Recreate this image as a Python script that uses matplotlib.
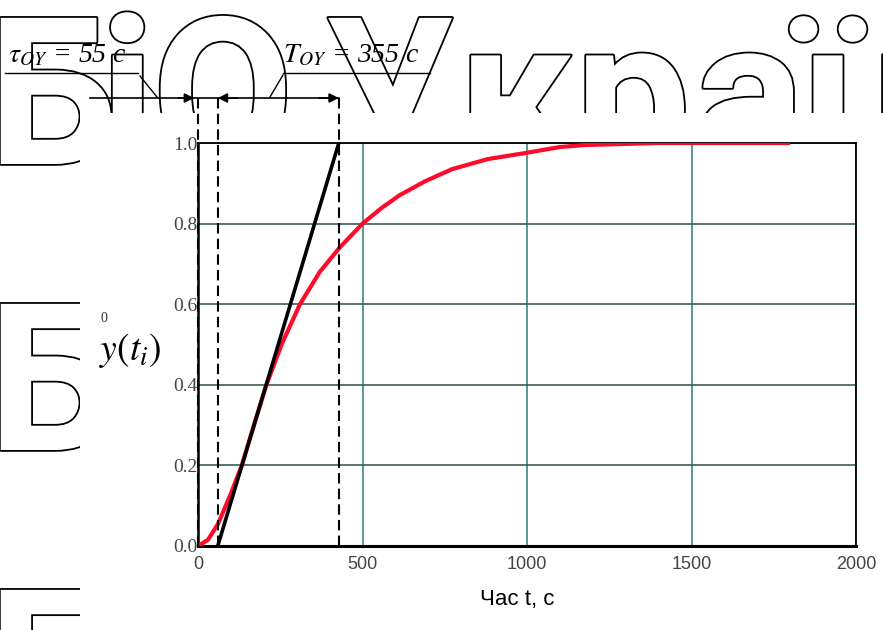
import matplotlib
matplotlib.use('Agg')
import matplotlib.pyplot as plt
import matplotlib.patheffects as pe
from matplotlib.lines import Line2D
from matplotlib.patches import Rectangle

plt.rcParams['mathtext.fontset'] = 'stix'

# ---- data ----
t_resp = [0, 30, 61, 100, 133, 170, 208, 254, 310, 370, 430, 500, 560, 612, 690,
          772, 880, 994, 1100, 1175, 1400, 1800]
y_resp = [0.0, 0.015, 0.055, 0.13, 0.2, 0.3, 0.4, 0.5, 0.6, 0.68, 0.74, 0.80, 0.84,
          0.87, 0.905, 0.935, 0.96, 0.975, 0.99, 0.995, 1.0, 1.0]
t_tangent = [60, 428]
y_tangent = [0.0, 1.0]
marker_times = [0, 60, 428]          # vertical dashed construction lines
tau_label = r'$\tau_{OY}$ = 55 с'
T_label = r'$T_{OY}$ = 355 с'
x_ticks = [0, 500, 1000, 1500, 2000]
x_ticklabels = ['0', '500', '1000', '1500', '2000']
y_ticks = [0.0, 0.2, 0.4, 0.6, 0.8, 1.0]
y_ticklabels = ['0.0', '0.2', '0.4', '0.6', '0.8', '1.0']
x_label = 'Час t, с'
y_label = r'$y(t_i)$'
y_label_sup = '0'
watermark_chars = ['Б', 'і', 'О', 'У', 'к', 'р', 'а', 'ї', 'н']
watermark_x = [-12, 100, 152, 325, 458, 575, 694, 800, 872]

W, H = 883, 630
fig = plt.figure(figsize=(W / 100, H / 100), dpi=100)
fig.patch.set_facecolor('white')


def fx(x):
    return x / W


def fy(y):
    return 1 - y / H


# ---- watermark (outlined letters) ----
wm_kw = dict(fontsize=148, family='Roboto', weight='bold', color='white',
             ha='left', va='baseline', zorder=0,
             path_effects=[pe.Stroke(linewidth=2.6, foreground='black'), pe.Normal()])
for ch, x in zip(watermark_chars, watermark_x):
    fig.text(fx(x), fy(164), ch, **wm_kw)
for base in [450, 736]:
    fig.text(fx(watermark_x[0]), fy(base), watermark_chars[0], **wm_kw)

# white block of the chart picture
fig.add_artist(Rectangle((fx(80), 0), 1 - fx(80), fy(113), transform=fig.transFigure,
                         facecolor='white', edgecolor='none', zorder=1))

# ---- axes ----
ax = fig.add_axes([fx(198), fy(546), (856 - 198) / W, (546 - 143) / H], zorder=2)
ax.set_xlim(0, 2000)
ax.set_ylim(0, 1)
ax.set_xticks(x_ticks)
ax.set_xticklabels(x_ticklabels, family='Liberation Sans', fontsize=13, color='#444444')
ax.set_yticks(y_ticks)
ax.set_yticklabels(y_ticklabels, family='Liberation Serif', fontsize=14, color='#444444')
ax.tick_params(axis='both', length=0)
ax.tick_params(axis='x', pad=7)
ax.tick_params(axis='y', pad=0)
ax.xaxis.grid(True, color='#3d8585', linewidth=1.2)
ax.yaxis.grid(True, color='#3b5e5e', linewidth=1.2)
ax.set_axisbelow(True)
for s in ax.spines.values():
    s.set_color('black')
    s.set_linewidth(1.3)
ax.spines['bottom'].set_linewidth(2.2)
ax.spines['left'].set_linewidth(1.8)

# response & tangent
ax.plot(t_resp, y_resp, color='#ff0a2a', linewidth=3.0, solid_capstyle='butt',
        solid_joinstyle='round', zorder=3)
ax.plot(t_tangent, y_tangent, color='black', linewidth=2.6, zorder=4)

# construction lines
y_dim = (546 - 98) / (546 - 143)
for tm in marker_times:
    ax.plot([tm, tm], [0, y_dim], color='black', linewidth=1.5, dashes=(5, 2.5),
            clip_on=False, zorder=5)

x_dim_start = (90 - 198) / (658 / 2000)
ax.plot([x_dim_start, marker_times[2]], [y_dim, y_dim], color='black', linewidth=1.2,
        clip_on=False, zorder=5)
arrow_kw = dict(arrowstyle='-|>', color='black', lw=1.2, mutation_scale=14,
                shrinkA=0, shrinkB=0)
ax.annotate('', xy=(marker_times[0] - 12, y_dim), xytext=(marker_times[0] - 60, y_dim),
            arrowprops=arrow_kw, annotation_clip=False)
ax.annotate('', xy=(marker_times[1], y_dim), xytext=(marker_times[1] + 60, y_dim),
            arrowprops=arrow_kw, annotation_clip=False)
ax.annotate('', xy=(marker_times[2], y_dim), xytext=(marker_times[2] - 60, y_dim),
            arrowprops=arrow_kw, annotation_clip=False)

# ---- labels above ----
fig.text(fx(8), fy(62), tau_label, fontsize=20, family='Liberation Serif',
         style='italic', ha='left', va='baseline', zorder=6)
fig.text(fx(283), fy(62), T_label, fontsize=20, family='Liberation Serif',
         style='italic', ha='left', va='baseline', zorder=6)
for (x0, y0, x1, y1) in [(5, 73, 138, 73), (140, 76, 157, 97),
                         (283, 73, 430, 73), (283, 75, 270, 97)]:
    fig.add_artist(Line2D([fx(x0), fx(x1)], [fy(y0), fy(y1)], color='black',
                          linewidth=1.0, transform=fig.transFigure, zorder=6))

# axis labels
fig.text(fx(517), fy(600), x_label, fontsize=16, family='Liberation Sans',
         ha='center', va='center', zorder=6)
fig.text(fx(130), fy(350), y_label, fontsize=27, ha='center', va='center', zorder=6)
fig.text(fx(104), fy(318), y_label_sup, fontsize=10, family='Liberation Serif',
         color='#333333', ha='center', va='center', zorder=6)

fig.savefig('out.png', dpi=100, facecolor='white')
